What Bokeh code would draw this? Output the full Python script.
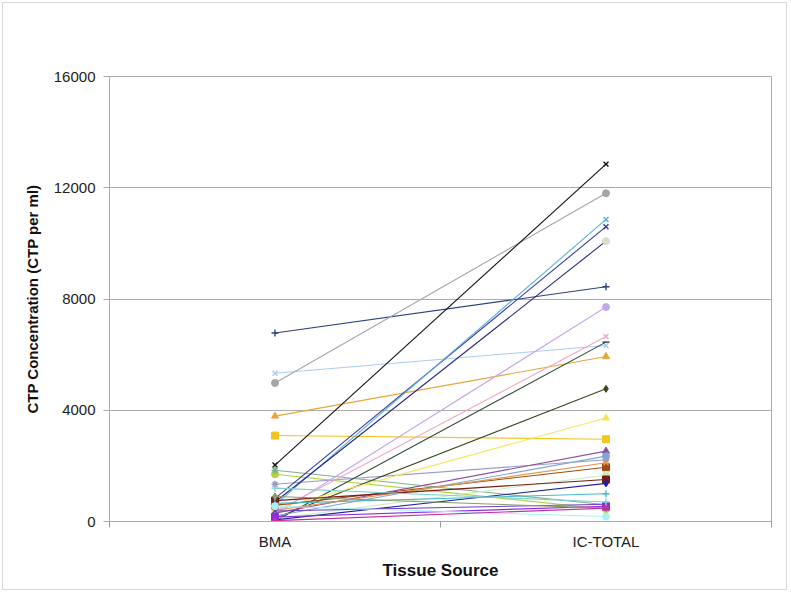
from bokeh.plotting import figure
from bokeh.models import Range1d, FixedTicker, Label, ColumnDataSource
from bokeh.embed import file_html
from bokeh.resources import INLINE

# ---------------- data ----------------
categories = ["BMA", "IC-TOTAL"]
y_ticks = [0, 4000, 8000, 12000, 16000]

bma_values = [6780, 5330, 4980, 3790, 3090, 2030, 1700, 1840, 1340, 830,
              600, 700, 250, 350, 20, 120, 450, 580, 300, 200,
              400, 100, 750, 60, 650, 380, 160, 900, 550, 30, 1200]
ic_total_values = [8440, 6330, 11800, 5930, 2960, 12850, 440, 600, 2220, 10600,
                   10860, 10080, 7710, 6650, 6450, 4770, 3720, 1950, 2530, 2350,
                   2110, 1670, 1510, 1370, 1000, 620, 550, 480, 180, 480, 700]

# ---------------- styles ----------------
line_colors = ["#2F3F80", "#A8CCF2", "#A5A5A5", "#E9A43C", "#F2C61F", "#111111",
               "#B5CF3E", "#7BB58A", "#9A9AC8", "#3B3B9E", "#5AB0E0", "#262680",
               "#C5A6EE", "#F2A6C6", "#2E4A2E", "#3A4A1C", "#F8E45A", "#9C4A12",
               "#8E4E9E", "#7FA8D8", "#E8944A", "#C8EEC0", "#7A1A1A", "#1F1FA0",
               "#4AB8C8", "#7040C0", "#8A2BE2", "#8C9A6A", "#A8F0F8", "#C030A0",
               "#80D0D0"]
marker_colors = list(line_colors)
marker_colors[11] = "#D8DEC8"
markers = ["cross", "x", "circle", "triangle", "square", "x",
           "circle", "asterisk", "asterisk", "x", "x", "circle",
           "circle", "x", "dash", "diamond", "triangle", "square",
           "triangle", "circle", "x", "circle", "square", "diamond",
           "cross", "x", "square", "diamond", "circle", "triangle",
           "cross"]

FONT = "Liberation Sans"
GRID = "#ABABAB"

xs = [i + 0.5 for i in range(len(categories))]

p = figure(width=785, height=588, output_backend="svg", toolbar_location=None,
           x_range=Range1d(0, len(categories)), y_range=Range1d(y_ticks[0], y_ticks[-1]),
           min_border_left=106, min_border_right=17, min_border_top=73, min_border_bottom=70)
p.styles = {"border": "1px solid #D9D9D9", "margin-left": "2px", "margin-top": "2px"}
p.background_fill_color = "white"
p.border_fill_color = "white"
p.outline_line_color = GRID

for i in range(len(bma_values)):
    src = ColumnDataSource(dict(x=xs, y=[bma_values[i], ic_total_values[i]]))
    p.line("x", "y", source=src, line_color=line_colors[i], line_width=1.1)
    mk = markers[i]
    if mk in ("x", "cross", "asterisk", "dash"):
        p.scatter("x", "y", source=src, marker=mk, size=7, line_color=marker_colors[i],
                  line_width=1.4)
    else:
        p.scatter("x", "y", source=src, marker=mk, size=7, fill_color=marker_colors[i],
                  line_color=marker_colors[i])

# grid
p.xgrid.grid_line_color = None
p.ygrid.grid_line_color = GRID
p.ygrid.ticker = FixedTicker(ticks=y_ticks)

# x axis
xa = p.xaxis[0]
xa.ticker = FixedTicker(ticks=xs, minor_ticks=list(range(len(categories) + 1)))
xa.major_label_overrides = {x: c for x, c in zip(xs, categories)}
xa.major_tick_line_color = None
xa.major_tick_out = 0
xa.major_tick_in = 0
xa.minor_tick_line_color = "#999999"
xa.minor_tick_out = 6
xa.minor_tick_in = 0
xa.axis_line_color = GRID
xa.major_label_text_font = FONT
xa.major_label_text_font_size = "15px"
xa.major_label_text_color = "#222222"
xa.major_label_standoff = 5
xa.axis_label = "Tissue Source"
xa.axis_label_text_font = FONT
xa.axis_label_text_font_size = "17px"
xa.axis_label_text_font_style = "bold"
xa.axis_label_text_color = "#111111"
xa.axis_label_standoff = 8

# y axis
ya = p.yaxis[0]
ya.ticker = FixedTicker(ticks=y_ticks)
ya.axis_line_color = GRID
ya.major_tick_line_color = GRID
ya.major_tick_out = 6
ya.major_tick_in = 0
ya.minor_tick_line_color = None
ya.major_label_text_font = FONT
ya.major_label_text_font_size = "15px"
ya.major_label_text_color = "#222222"
ya.major_label_standoff = 8
ya.axis_label = "CTP Concentration (CTP per ml)"
ya.axis_label_text_font = FONT
ya.axis_label_text_font_size = "15px"
ya.axis_label_text_font_style = "bold"
ya.axis_label_text_color = "#111111"
ya.axis_label_standoff = 10

title = Label(x=289, y=484, x_units="screen", y_units="screen",
              text="CTP Concentration by Tissue Source", text_align="center",
              text_baseline="middle", text_font=FONT, text_font_size="19px",
              text_font_style="bold", text_color="#111111")
p.add_layout(title)

open("out.html", "w").write(file_html(p, INLINE))
